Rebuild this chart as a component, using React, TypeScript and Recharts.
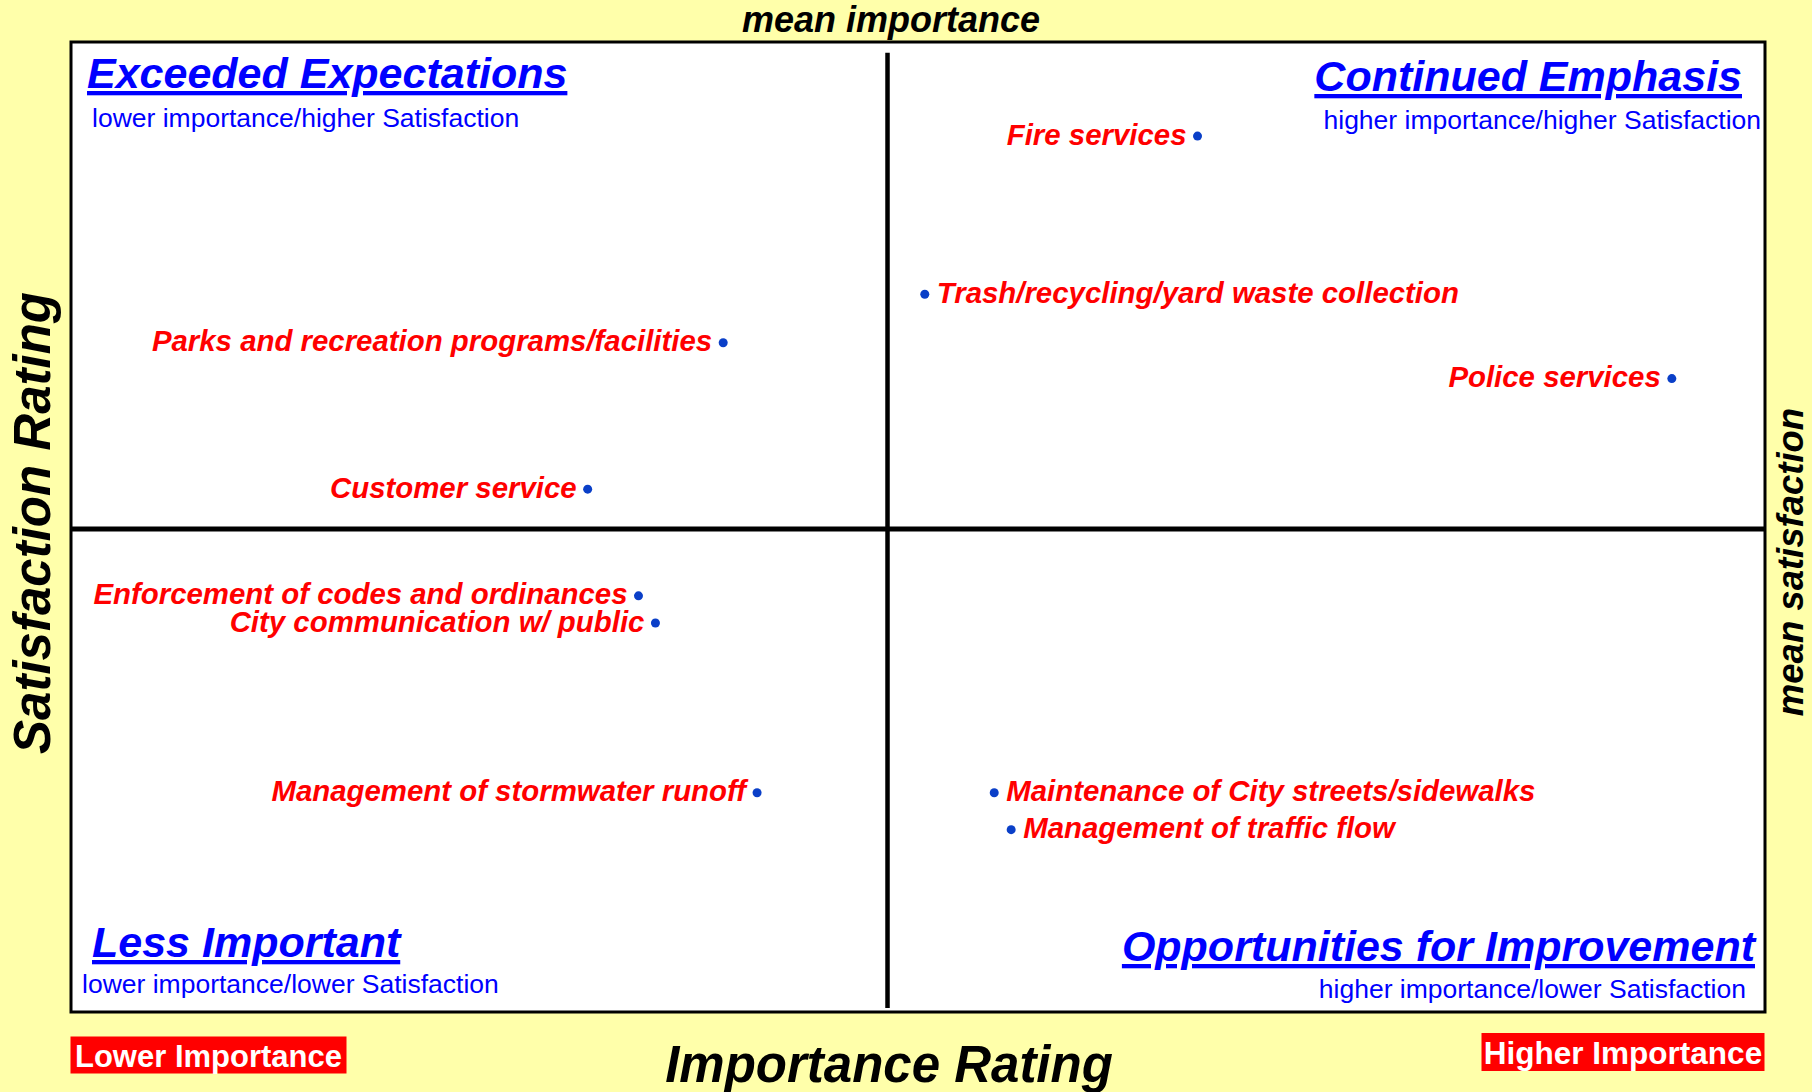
import React from "react";
import {
  ScatterChart,
  Scatter,
  XAxis,
  YAxis,
  ReferenceArea,
  ReferenceLine,
} from "recharts";

// services and where they sit (importance vs satisfaction, 0-100 scale)
const services = [
  "Fire services",
  "Trash/recycling/yard waste collection",
  "Police services",
  "Parks and recreation programs/facilities",
  "Customer service",
  "Enforcement of codes and ordinances",
  "City communication w/ public",
  "Management of stormwater runoff",
  "Maintenance of City streets/sidewalks",
  "Management of traffic flow",
];
const importance = [66.5, 50.4, 94.5, 38.5, 30.5, 33.5, 34.5, 40.5, 54.5, 55.5];
const satisfaction = [90.3, 74.0, 65.3, 69.0, 53.9, 42.9, 40.1, 22.6, 22.6, 18.8];
const labelSide = ["left", "right", "left", "left", "left", "left", "left", "left", "right", "right"];

const meanImportance = 48.2;
const meanSatisfaction = 49.8;

const quadrants = [
  { title: "Exceeded Expectations", note: "lower importance/higher Satisfaction" },
  { title: "Continued Emphasis", note: "higher importance/higher Satisfaction" },
  { title: "Less Important", note: "lower importance/lower Satisfaction" },
  { title: "Opportunities for Improvement", note: "higher importance/lower Satisfaction" },
];

const W = 1812;
const H = 1092;
const FONT = "'Liberation Sans', Arial, Helvetica, sans-serif";

const rows = services.map((name, i) => ({
  name,
  importance: importance[i],
  satisfaction: satisfaction[i],
  side: labelSide[i],
}));

function ServiceDot(props: any) {
  const { cx, cy, payload } = props;
  const left = payload.side === "left";
  return (
    <g>
      <circle cx={cx} cy={cy} r={4.5} fill="#0A3FC8" />
      <text
        x={left ? cx - 11 : cx + 12}
        y={cy + 8.5}
        textAnchor={left ? "end" : "start"}
        fill="#FF0000"
        fontFamily={FONT}
        fontWeight="bold"
        fontStyle="italic"
        fontSize={29.4}
      >
        {payload.name}
      </text>
    </g>
  );
}

export default function App() {
  const titleStyle = {
    fontFamily: FONT,
    fontWeight: "bold" as const,
    fontStyle: "italic" as const,
    fontSize: 43,
    fill: "#0000FF",
    textDecoration: "underline",
  };
  const noteStyle = { fontFamily: FONT, fontSize: 26.5, fill: "#0000FF" };
  const axisStyle = {
    fontFamily: FONT,
    fontWeight: "bold" as const,
    fontStyle: "italic" as const,
    fill: "#000",
  };

  return (
    <div
      style={{
        position: "absolute",
        left: 0,
        top: 0,
        width: W,
        height: H,
        background: "#FFFFAA",
      }}
    >
      <ScatterChart
        width={W}
        height={H}
        margin={{ top: 42, right: 47, bottom: 80, left: 71 }}
      >
        <XAxis type="number" dataKey="importance" domain={[0, 100]} hide />
        <YAxis type="number" dataKey="satisfaction" domain={[0, 100]} hide />
        <ReferenceArea
          x1={0}
          x2={100}
          y1={0}
          y2={100}
          fill="#FFFFFF"
          fillOpacity={1}
          stroke="#000"
          strokeWidth={3}
        />
        <ReferenceLine y={meanSatisfaction} stroke="#000" strokeWidth={5} />
        <ReferenceLine
          segment={[
            { x: meanImportance, y: 98.9 },
            { x: meanImportance, y: 0.4 },
          ]}
          stroke="#000"
          strokeWidth={4.5}
        />
        <Scatter data={rows} shape={<ServiceDot />} isAnimationActive={false} />
      </ScatterChart>

      <svg
        width={W}
        height={H}
        style={{ position: "absolute", left: 0, top: 0, pointerEvents: "none" }}
      >
        {/* quadrant titles */}
        <text x={87} y={88} style={titleStyle}>{quadrants[0].title}</text>
        <text x={92} y={127} style={noteStyle}>{quadrants[0].note}</text>
        <text x={1742} y={91} textAnchor="end" style={titleStyle}>{quadrants[1].title}</text>
        <text x={1761} y={129} textAnchor="end" style={noteStyle}>{quadrants[1].note}</text>
        <text x={92} y={957} style={titleStyle}>{quadrants[2].title}</text>
        <text x={82} y={993} style={noteStyle}>{quadrants[2].note}</text>
        <text x={1755} y={961} textAnchor="end" style={titleStyle}>{quadrants[3].title}</text>
        <text x={1746} y={998} textAnchor="end" style={noteStyle}>{quadrants[3].note}</text>

        {/* axis titles */}
        <text x={891} y={32} textAnchor="middle" style={{ ...axisStyle, fontSize: 36 }}>
          mean importance
        </text>
        <text
          transform="translate(1803 562) rotate(-90)"
          textAnchor="middle"
          style={{ ...axisStyle, fontSize: 36.5 }}
        >
          mean satisfaction
        </text>
        <text
          transform="translate(50 523) rotate(-90)"
          textAnchor="middle"
          style={{ ...axisStyle, fontSize: 51 }}
        >
          Satisfaction Rating
        </text>
        <text x={889} y={1082} textAnchor="middle" style={{ ...axisStyle, fontSize: 51 }}>
          Importance Rating
        </text>

        {/* end markers */}
        <rect x={70.5} y={1036.5} width={276} height={37} fill="#FF0000" />
        <text
          x={208.5}
          y={1067}
          textAnchor="middle"
          fill="#FFFFFF"
          fontFamily={FONT}
          fontWeight="bold"
          fontSize={31}
        >
          Lower Importance
        </text>
        <rect x={1481.5} y={1033} width={283} height={38} fill="#FF0000" />
        <text
          x={1623}
          y={1064}
          textAnchor="middle"
          fill="#FFFFFF"
          fontFamily={FONT}
          fontWeight="bold"
          fontSize={31.5}
        >
          Higher Importance
        </text>
      </svg>
    </div>
  );
}
